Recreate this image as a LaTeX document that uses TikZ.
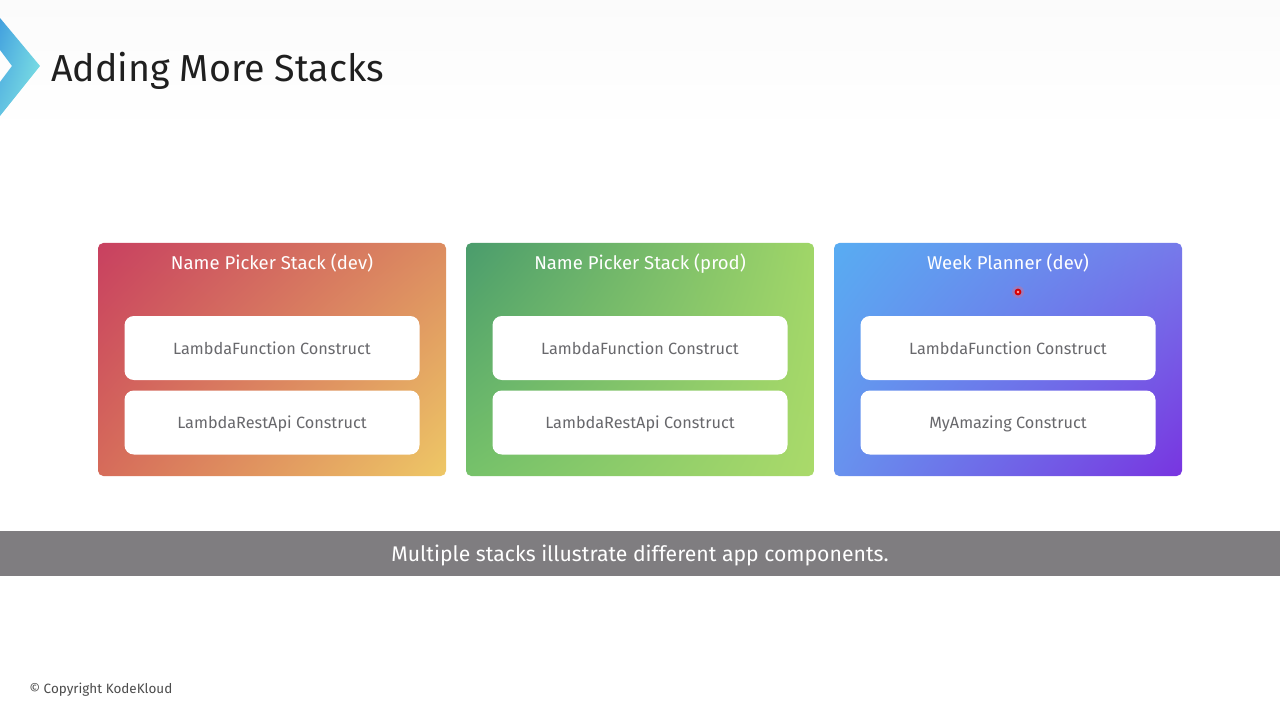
\documentclass[tikz,border=0pt]{standalone}
\usepackage{fontspec}
\setmainfont{Fira Sans}
\usetikzlibrary{shadings}
\definecolor{aUL}{RGB}{200,64,96}
\definecolor{aUR}{RGB}{220,140,96}
\definecolor{aLL}{RGB}{214,108,90}
\definecolor{aLR}{RGB}{238,200,102}
\definecolor{bUL}{RGB}{74,156,108}
\definecolor{bUR}{RGB}{160,214,104}
\definecolor{bLL}{RGB}{118,194,106}
\definecolor{bLR}{RGB}{170,218,106}
\definecolor{cUL}{RGB}{88,172,242}
\definecolor{cUR}{RGB}{118,122,234}
\definecolor{cLL}{RGB}{104,146,238}
\definecolor{cLR}{RGB}{120,52,224}
\definecolor{logoUL}{RGB}{66,160,222}
\definecolor{logoUR}{RGB}{110,210,228}
\definecolor{logoLL}{RGB}{100,196,226}
\definecolor{logoLR}{RGB}{130,228,226}
\definecolor{bannerGray}{RGB}{127,125,128}
\definecolor{itemText}{RGB}{104,104,108}
\definecolor{topBand}{RGB}{251,251,251}
\begin{document}
\begin{tikzpicture}[x=0.75pt,y=-0.75pt,
  stackbox/.style={rounded corners=4pt, minimum width=261pt, minimum height=174.75pt, inner sep=0pt},
  itembox/.style={fill=white, rounded corners=7pt, minimum width=221.25pt, minimum height=48pt, inner sep=0pt,
     font=\fontsize{12.2}{14}\selectfont, text=itemText},
  itemtext/.style={inner sep=0pt, font=\fontsize{12.2}{14}\selectfont, text=itemText},
  stacktitle/.style={text=white, font=\fontsize{13.9}{16}\selectfont, inner sep=0pt}
]
\useasboundingbox (0,0) rectangle (1280,720);
\fill[white] (0,0) rectangle (1280,720);
\shade[top color=topBand, bottom color=white] (0,0) rectangle (1280,135);
% logo chevron
\shade[upper left=logoUL, upper right=logoUR, lower left=logoLL, lower right=logoLR]
  (0,18) -- (40,66) -- (0,116) -- (0,82) -- (12,66) -- (0,50) -- cycle;
\node (title) [anchor=base west, inner sep=0pt, font=\fontsize{28.2}{32}\selectfont, text=black!88] at (51,81.5) {Adding More Stacks};

% stacks
\node (s1) [stackbox, upper left=aUL, upper right=aUR, lower left=aLL, lower right=aLR] at (272,359.5) {};
\node (s2) [stackbox, upper left=bUL, upper right=bUR, lower left=bLL, lower right=bLR] at (640,359.5) {};
\node (s3) [stackbox, upper left=cUL, upper right=cUR, lower left=cLL, lower right=cLR] at (1008,359.5) {};

\node (t1) [stacktitle] at (272,263.5) {Name Picker Stack (dev)};
\node (t2) [stacktitle] at (640,263.5) {Name Picker Stack (prod)};
\node (t3) [stacktitle] at (1008,263.5) {Week Planner (dev)};

\node (a1) [itembox] at (272,348) {LambdaFunction Construct};
\node (a2) [itembox] at (640,348) {LambdaFunction Construct};
\node (a3) [itembox] at (1008,348) {LambdaFunction Construct};
\node (b1) [itembox] at (272,422.5) {};
\node (b2) [itembox] at (640,422.5) {};
\node (b3) [itembox] at (1008,422.5) {};
\node (bt1) [itemtext] at (272,424) {LambdaRestApi Construct};
\node (bt2) [itemtext] at (640,424) {LambdaRestApi Construct};
\node (bt3) [itemtext] at (1008,424) {MyAmazing Construct};

% pointer dot
\fill[red!60!white, opacity=0.3] (1018,292) circle (6);
\fill[red!85!black] (1018,292) circle (3.4);
\fill[red!35!white] (1018,292) circle (1.3);

% banner
\fill[bannerGray] (0,531) rectangle (1280,576);
\node (banner) [text=white, font=\fontsize{15.9}{18}\selectfont, inner sep=0pt] at (640,555) {Multiple stacks illustrate different app components.};

\node (copy) [anchor=west, inner sep=0pt, text=black!70, font=\fontsize{10.1}{12}\selectfont] at (29,689.5) {© Copyright KodeKloud};
\end{tikzpicture}
\end{document}
